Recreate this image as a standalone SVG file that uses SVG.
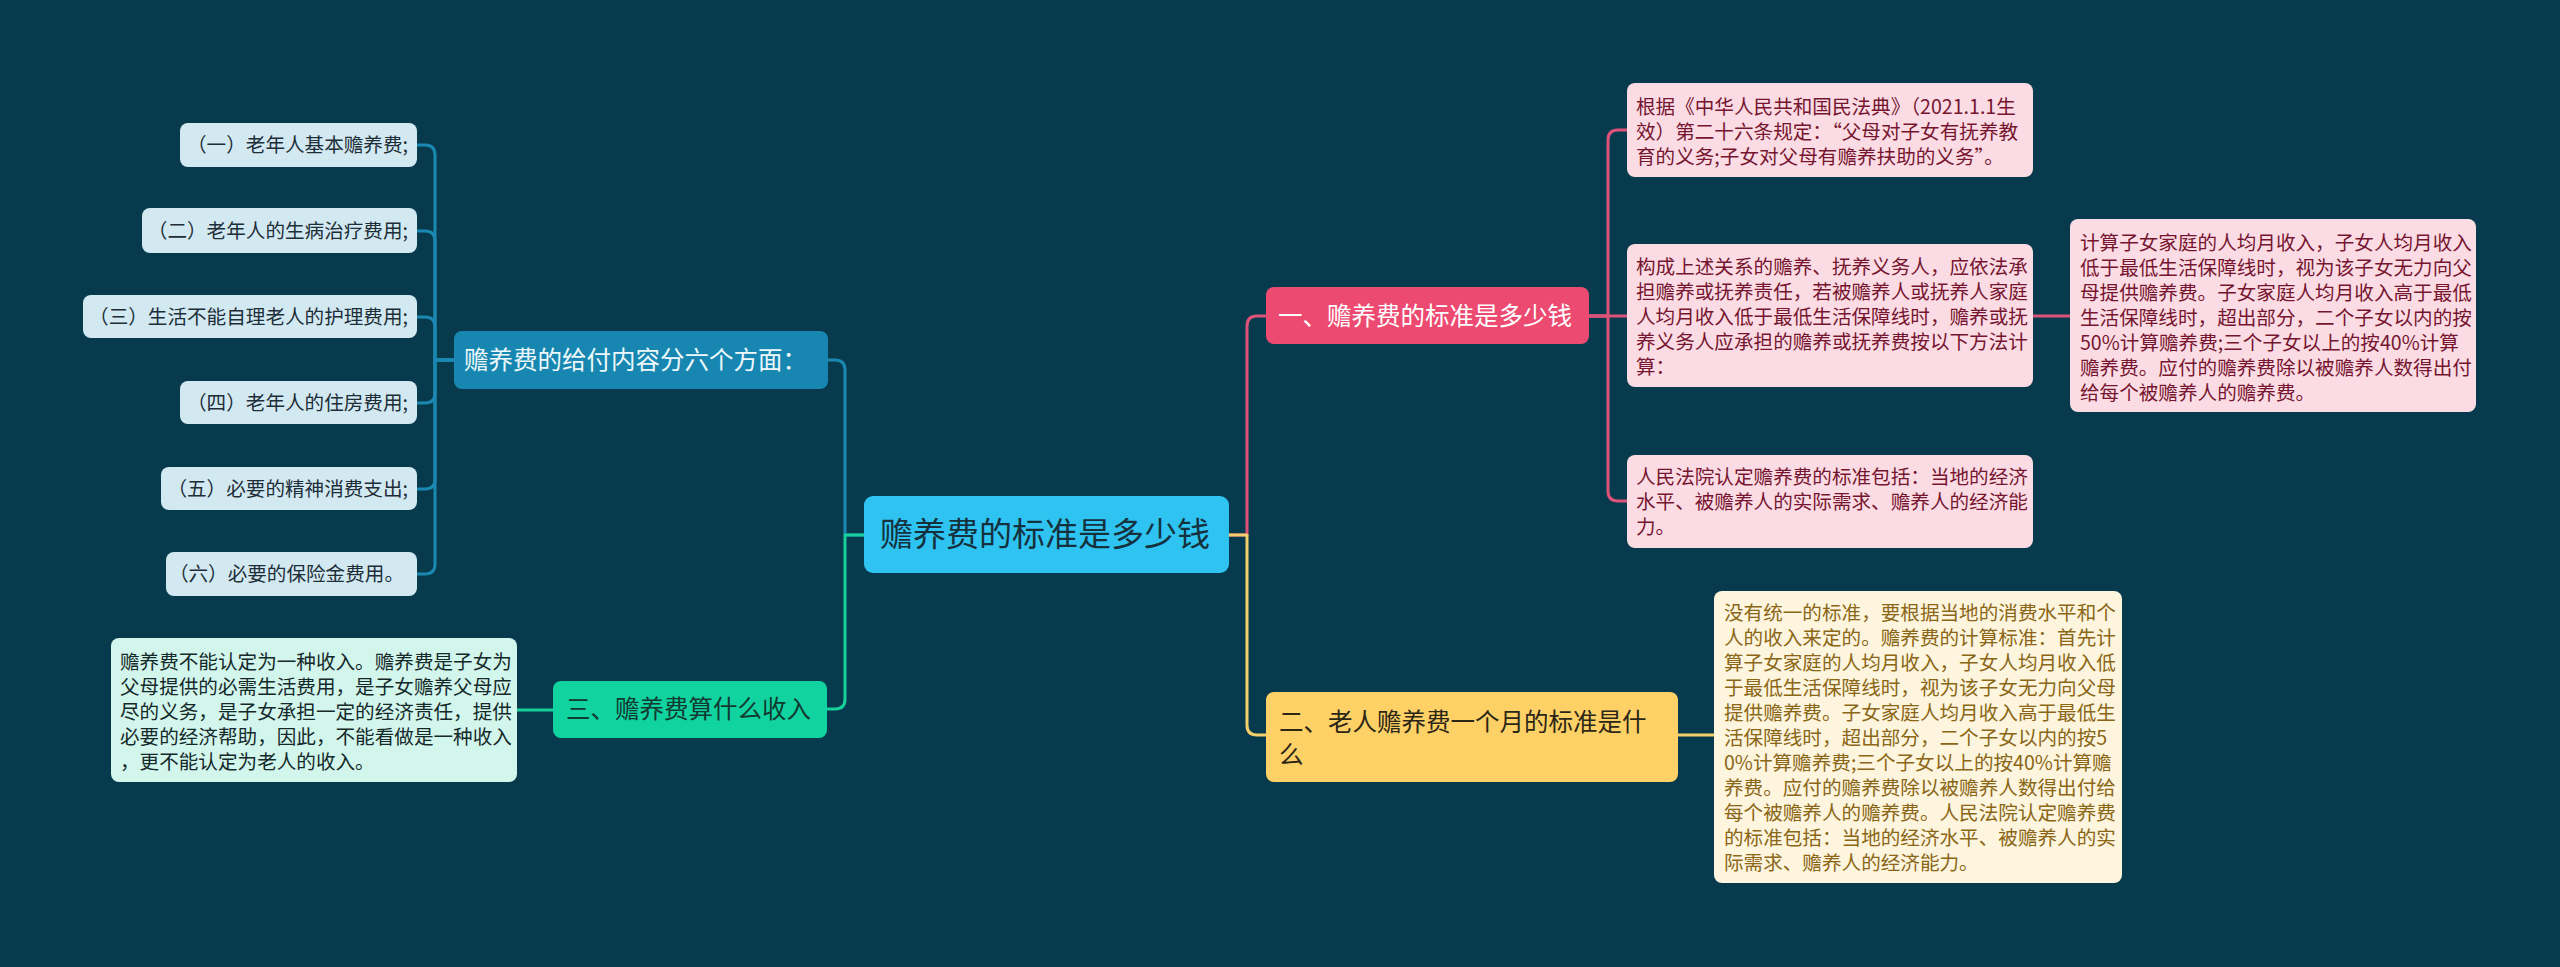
<svg xmlns="http://www.w3.org/2000/svg" width="2560" height="967" viewBox="0 0 2560 967">
<style>
text{font-family:"Noto Sans CJK SC","Noto Sans",sans-serif;}
.t{font-size:19.6px;}
.l1{font-size:24.5px;}
.root{font-size:33px;fill:#15313d;}
.ln{fill:none;stroke-width:3;stroke-linecap:round;stroke-linejoin:round;}
.pk{stroke:#dd5279;}
.yl{stroke:#f3d06b;}
.bl{stroke:#1a88b0;}
.gr{stroke:#17cf9b;}
.pkbox{fill:#fcdce4;}
.pktx{fill:#761530;}
.blbox{fill:#d3e9f2;}
.bltx{fill:#1d2e38;}
.grbox{fill:#d2f6ec;}
.grtx{fill:#15292a;}
.ylbox{fill:#fdf5dd;}
.yltx{fill:#8a6616;}
</style>
<rect x="0" y="0" width="2560" height="967" fill="#083a4e"/>
<g id="connectors">
  <path class="ln pk" d="M1229,535 H1247 V326 Q1247,316 1257,316 H1266"/>
  <path class="ln yl" d="M1229,535 H1247 V725 Q1247,735 1257,735 H1266"/>
  <path class="ln bl" d="M864,535 H845 V370 Q845,360 835,360 H828"/>
  <path class="ln gr" d="M864,535 H845 V699 Q845,709 835,709 H827"/>
  <path class="ln pk" d="M1589,316 H1608 V140 Q1608,130 1618,130 H1627"/>
  <path class="ln pk" d="M1589,316 H1627"/>
  <path class="ln pk" d="M1589,316 H1608 V491 Q1608,501 1618,501 H1627"/>
  <path class="ln pk" d="M2033,316 H2070"/>
  <path class="ln yl" d="M1678,735 H1714"/>
  <path class="ln gr" d="M553,710 H517"/>
  <path class="ln bl" d="M454,360 H435 V155 Q435,145 425,145 H417"/>
  <path class="ln bl" d="M454,360 H435 V241 Q435,231 425,231 H417"/>
  <path class="ln bl" d="M454,360 H435 V327 Q435,317 425,317 H417"/>
  <path class="ln bl" d="M454,360 H435 V393 Q435,403 425,403 H417"/>
  <path class="ln bl" d="M454,360 H435 V479 Q435,489 425,489 H417"/>
  <path class="ln bl" d="M454,360 H435 V564 Q435,574 425,574 H417"/>
</g>
<g id="root">
  <rect x="864" y="496" width="365" height="77" rx="9" fill="#2ec3f1"/>
  <text class="root" x="880" y="546">赡养费的标准是多少钱</text>
</g>
<g id="n1">
  <rect x="1266" y="287" width="323" height="57" rx="8" fill="#ec4a71"/>
  <text class="l1" x="1278" y="325" fill="#ffffff">一、赡养费的标准是多少钱</text>
</g>
<g id="n1a">
  <rect class="pkbox" x="1627" y="83" width="406" height="94" rx="8"/>
  <text class="t pktx" x="1636"><tspan x="1636" y="114">根据《中华人民共和国民法典》（2021.1.1生</tspan><tspan x="1636" y="139">效）第二十六条规定：“父母对子女有抚养教</tspan><tspan x="1636" y="164">育的义务;子女对父母有赡养扶助的义务”。</tspan></text>
</g>
<g id="n1b">
  <rect class="pkbox" x="1627" y="244" width="406" height="143" rx="8"/>
  <text class="t pktx"><tspan x="1636" y="274">构成上述关系的赡养、抚养义务人，应依法承</tspan><tspan x="1636" y="299">担赡养或抚养责任，若被赡养人或抚养人家庭</tspan><tspan x="1636" y="324">人均月收入低于最低生活保障线时，赡养或抚</tspan><tspan x="1636" y="349">养义务人应承担的赡养或抚养费按以下方法计</tspan><tspan x="1636" y="374">算：</tspan></text>
</g>
<g id="n1b1">
  <rect class="pkbox" x="2070" y="219" width="406" height="193" rx="8"/>
  <text class="t pktx"><tspan x="2080" y="250">计算子女家庭的人均月收入，子女人均月收入</tspan><tspan x="2080" y="275">低于最低生活保障线时，视为该子女无力向父</tspan><tspan x="2080" y="300">母提供赡养费。子女家庭人均月收入高于最低</tspan><tspan x="2080" y="325">生活保障线时，超出部分，二个子女以内的按</tspan><tspan x="2080" y="350">50%计算赡养费;三个子女以上的按40%计算</tspan><tspan x="2080" y="375">赡养费。应付的赡养费除以被赡养人数得出付</tspan><tspan x="2080" y="400">给每个被赡养人的赡养费。</tspan></text>
</g>
<g id="n1c">
  <rect class="pkbox" x="1627" y="455" width="406" height="93" rx="8"/>
  <text class="t pktx"><tspan x="1636" y="484">人民法院认定赡养费的标准包括：当地的经济</tspan><tspan x="1636" y="509">水平、被赡养人的实际需求、赡养人的经济能</tspan><tspan x="1636" y="534">力。</tspan></text>
</g>
<g id="n2">
  <rect x="1266" y="692" width="412" height="90" rx="8" fill="#fed166"/>
  <text class="l1" fill="#2b2616"><tspan x="1279" y="731">二、老人赡养费一个月的标准是什</tspan><tspan x="1279" y="764">么</tspan></text>
</g>
<g id="n2a">
  <rect class="ylbox" x="1714" y="591" width="408" height="292" rx="8"/>
  <text class="t yltx"><tspan x="1724" y="620">没有统一的标准，要根据当地的消费水平和个</tspan><tspan x="1724" y="645">人的收入来定的。赡养费的计算标准：首先计</tspan><tspan x="1724" y="670">算子女家庭的人均月收入，子女人均月收入低</tspan><tspan x="1724" y="695">于最低生活保障线时，视为该子女无力向父母</tspan><tspan x="1724" y="720">提供赡养费。子女家庭人均月收入高于最低生</tspan><tspan x="1724" y="745">活保障线时，超出部分，二个子女以内的按5</tspan><tspan x="1724" y="770">0%计算赡养费;三个子女以上的按40%计算赡</tspan><tspan x="1724" y="795">养费。应付的赡养费除以被赡养人数得出付给</tspan><tspan x="1724" y="820">每个被赡养人的赡养费。人民法院认定赡养费</tspan><tspan x="1724" y="845">的标准包括：当地的经济水平、被赡养人的实</tspan><tspan x="1724" y="870">际需求、赡养人的经济能力。</tspan></text>
</g>
<g id="n3">
  <rect x="454" y="331" width="374" height="58" rx="8" fill="#1787b1"/>
  <text class="l1" x="464" y="369" fill="#eef8fc">赡养费的给付内容分六个方面：</text>
</g>
<g id="n3a">
  <rect class="blbox" x="180" y="123" width="237" height="44" rx="8"/>
  <text class="t bltx" x="408" y="152" text-anchor="end">（一）老年人基本赡养费;</text>
</g>
<g id="n3b">
  <rect class="blbox" x="142" y="208" width="275" height="45" rx="8"/>
  <text class="t bltx" x="408" y="238" text-anchor="end">（二）老年人的生病治疗费用;</text>
</g>
<g id="n3c">
  <rect class="blbox" x="83" y="295" width="334" height="43" rx="8"/>
  <text class="t bltx" x="408" y="324" text-anchor="end">（三）生活不能自理老人的护理费用;</text>
</g>
<g id="n3d">
  <rect class="blbox" x="180" y="381" width="237" height="43" rx="8"/>
  <text class="t bltx" x="408" y="410" text-anchor="end">（四）老年人的住房费用;</text>
</g>
<g id="n3e">
  <rect class="blbox" x="161" y="467" width="256" height="43" rx="8"/>
  <text class="t bltx" x="408" y="496" text-anchor="end">（五）必要的精神消费支出;</text>
</g>
<g id="n3f">
  <rect class="blbox" x="166" y="552" width="251" height="44" rx="8"/>
  <text class="t bltx" x="404" y="581" text-anchor="end">（六）必要的保险金费用。</text>
</g>
<g id="n4">
  <rect x="553" y="681" width="274" height="57" rx="8" fill="#10d3a0"/>
  <text class="l1" x="566" y="718" fill="#123a30">三、赡养费算什么收入</text>
</g>
<g id="n4a">
  <rect class="grbox" x="111" y="638" width="406" height="144" rx="8"/>
  <text class="t grtx"><tspan x="120" y="669">赡养费不能认定为一种收入。赡养费是子女为</tspan><tspan x="120" y="694">父母提供的必需生活费用，是子女赡养父母应</tspan><tspan x="120" y="719">尽的义务，是子女承担一定的经济责任，提供</tspan><tspan x="120" y="744">必要的经济帮助，因此，不能看做是一种收入</tspan><tspan x="120" y="769">，更不能认定为老人的收入。</tspan></text>
</g>
</svg>
